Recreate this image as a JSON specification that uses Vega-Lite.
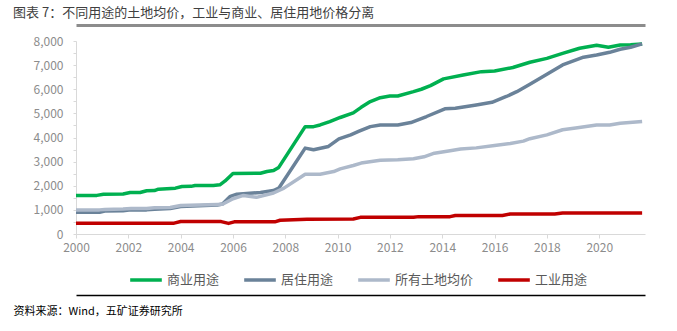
{
  "$schema": "https://vega.github.io/schema/vega-lite/v6.json",
  "width": 569,
  "height": 193,
  "autosize": {"type": "none"},
  "padding": {"left": 76, "top": 41, "right": 32, "bottom": 97},
  "background": "white",
  "title": {
    "text": "图表 7：不同用途的土地均价，工业与商业、居住用地价格分离",
    "anchor": "start",
    "frame": "group",
    "dx": -63,
    "offset": 5,
    "font": "Noto Sans CJK SC",
    "fontSize": 13,
    "fontWeight": "normal",
    "color": "#404040"
  },
  "config": {
    "view": {"stroke": null},
    "axis": {"grid": false, "labelFont": "Noto Sans CJK SC", "labelFontSize": 12, "labelColor": "#8C8C8C", "domainColor": "#D9D9D9", "tickColor": "#D9D9D9", "tickSize": 4}
  },
  "data": {"values": [
    {"year": 2000.0, "series": "商业用途", "value": 1600},
    {"year": 2000.8, "series": "商业用途", "value": 1600},
    {"year": 2001.05, "series": "商业用途", "value": 1650},
    {"year": 2001.8, "series": "商业用途", "value": 1660},
    {"year": 2002.07, "series": "商业用途", "value": 1720},
    {"year": 2002.45, "series": "商业用途", "value": 1720},
    {"year": 2002.7, "series": "商业用途", "value": 1790},
    {"year": 2003.0, "series": "商业用途", "value": 1800},
    {"year": 2003.15, "series": "商业用途", "value": 1860},
    {"year": 2003.8, "series": "商业用途", "value": 1900},
    {"year": 2004.05, "series": "商业用途", "value": 1970},
    {"year": 2004.4, "series": "商业用途", "value": 1975},
    {"year": 2004.55, "series": "商业用途", "value": 2010},
    {"year": 2005.25, "series": "商业用途", "value": 2010},
    {"year": 2005.5, "series": "商业用途", "value": 2040},
    {"year": 2005.7, "series": "商业用途", "value": 2200},
    {"year": 2006.0, "series": "商业用途", "value": 2510},
    {"year": 2007.05, "series": "商业用途", "value": 2520},
    {"year": 2007.3, "series": "商业用途", "value": 2590},
    {"year": 2007.55, "series": "商业用途", "value": 2630},
    {"year": 2007.75, "series": "商业用途", "value": 2760},
    {"year": 2008.76, "series": "商业用途", "value": 4450},
    {"year": 2009.08, "series": "商业用途", "value": 4450},
    {"year": 2009.33, "series": "商业用途", "value": 4520},
    {"year": 2009.7, "series": "商业用途", "value": 4660},
    {"year": 2010.1, "series": "商业用途", "value": 4830},
    {"year": 2010.6, "series": "商业用途", "value": 5020},
    {"year": 2010.9, "series": "商业用途", "value": 5250},
    {"year": 2011.25, "series": "商业用途", "value": 5490},
    {"year": 2011.63, "series": "商业用途", "value": 5650},
    {"year": 2012.0, "series": "商业用途", "value": 5720},
    {"year": 2012.3, "series": "商业用途", "value": 5720},
    {"year": 2012.9, "series": "商业用途", "value": 5900},
    {"year": 2013.2, "series": "商业用途", "value": 6000},
    {"year": 2013.55, "series": "商业用途", "value": 6150},
    {"year": 2014.05, "series": "商业用途", "value": 6430},
    {"year": 2014.8, "series": "商业用途", "value": 6590},
    {"year": 2015.5, "series": "商业用途", "value": 6730},
    {"year": 2016.0, "series": "商业用途", "value": 6760},
    {"year": 2016.7, "series": "商业用途", "value": 6900},
    {"year": 2017.35, "series": "商业用途", "value": 7120},
    {"year": 2018.0, "series": "商业用途", "value": 7280},
    {"year": 2018.6, "series": "商业用途", "value": 7490},
    {"year": 2019.25, "series": "商业用途", "value": 7700},
    {"year": 2019.9, "series": "商业用途", "value": 7820},
    {"year": 2020.35, "series": "商业用途", "value": 7740},
    {"year": 2020.8, "series": "商业用途", "value": 7835},
    {"year": 2021.2, "series": "商业用途", "value": 7840},
    {"year": 2021.64, "series": "商业用途", "value": 7880},

    {"year": 2000.0, "series": "居住用途", "value": 900},
    {"year": 2000.9, "series": "居住用途", "value": 900},
    {"year": 2001.1, "series": "居住用途", "value": 950},
    {"year": 2001.8, "series": "居住用途", "value": 965},
    {"year": 2002.1, "series": "居住用途", "value": 1000},
    {"year": 2002.7, "series": "居住用途", "value": 1000},
    {"year": 2003.0, "series": "居住用途", "value": 1030},
    {"year": 2003.6, "series": "居住用途", "value": 1060},
    {"year": 2004.0, "series": "居住用途", "value": 1140},
    {"year": 2005.4, "series": "居住用途", "value": 1200},
    {"year": 2005.6, "series": "居住用途", "value": 1240},
    {"year": 2005.9, "series": "居住用途", "value": 1560},
    {"year": 2006.15, "series": "居住用途", "value": 1650},
    {"year": 2007.05, "series": "居住用途", "value": 1720},
    {"year": 2007.55, "series": "居住用途", "value": 1800},
    {"year": 2007.75, "series": "居住用途", "value": 1900},
    {"year": 2008.76, "series": "居住用途", "value": 3560},
    {"year": 2009.08, "series": "居住用途", "value": 3490},
    {"year": 2009.65, "series": "居住用途", "value": 3630},
    {"year": 2010.05, "series": "居住用途", "value": 3940},
    {"year": 2010.5, "series": "居住用途", "value": 4110},
    {"year": 2010.8, "series": "居住用途", "value": 4250},
    {"year": 2011.25, "series": "居住用途", "value": 4450},
    {"year": 2011.63, "series": "居住用途", "value": 4520},
    {"year": 2012.3, "series": "居住用途", "value": 4520},
    {"year": 2012.8, "series": "居住用途", "value": 4620},
    {"year": 2013.4, "series": "居住用途", "value": 4870},
    {"year": 2014.1, "series": "居住用途", "value": 5190},
    {"year": 2014.5, "series": "居住用途", "value": 5210},
    {"year": 2015.3, "series": "居住用途", "value": 5350},
    {"year": 2015.9, "series": "居住用途", "value": 5460},
    {"year": 2016.45, "series": "居住用途", "value": 5700},
    {"year": 2016.85, "series": "居住用途", "value": 5900},
    {"year": 2017.35, "series": "居住用途", "value": 6210},
    {"year": 2018.0, "series": "居住用途", "value": 6620},
    {"year": 2018.6, "series": "居住用途", "value": 7010},
    {"year": 2019.4, "series": "居住用途", "value": 7330},
    {"year": 2019.9, "series": "居住用途", "value": 7420},
    {"year": 2020.4, "series": "居住用途", "value": 7530},
    {"year": 2020.8, "series": "居住用途", "value": 7660},
    {"year": 2021.2, "series": "居住用途", "value": 7740},
    {"year": 2021.64, "series": "居住用途", "value": 7880},

    {"year": 2000.0, "series": "所有土地均价", "value": 1000},
    {"year": 2000.9, "series": "所有土地均价", "value": 1000},
    {"year": 2001.1, "series": "所有土地均价", "value": 1020},
    {"year": 2001.8, "series": "所有土地均价", "value": 1040},
    {"year": 2002.1, "series": "所有土地均价", "value": 1060},
    {"year": 2002.7, "series": "所有土地均价", "value": 1060},
    {"year": 2003.0, "series": "所有土地均价", "value": 1090},
    {"year": 2003.6, "series": "所有土地均价", "value": 1100},
    {"year": 2004.0, "series": "所有土地均价", "value": 1180},
    {"year": 2005.4, "series": "所有土地均价", "value": 1220},
    {"year": 2005.6, "series": "所有土地均价", "value": 1230},
    {"year": 2006.0, "series": "所有土地均价", "value": 1460},
    {"year": 2006.4, "series": "所有土地均价", "value": 1600},
    {"year": 2006.9, "series": "所有土地均价", "value": 1520},
    {"year": 2007.55, "series": "所有土地均价", "value": 1700},
    {"year": 2007.95, "series": "所有土地均价", "value": 1900},
    {"year": 2008.76, "series": "所有土地均价", "value": 2480},
    {"year": 2009.33, "series": "所有土地均价", "value": 2480},
    {"year": 2009.85, "series": "所有土地均价", "value": 2590},
    {"year": 2010.1, "series": "所有土地均价", "value": 2700},
    {"year": 2010.6, "series": "所有土地均价", "value": 2840},
    {"year": 2010.9, "series": "所有土地均价", "value": 2940},
    {"year": 2011.63, "series": "所有土地均价", "value": 3060},
    {"year": 2012.3, "series": "所有土地均价", "value": 3080},
    {"year": 2012.9, "series": "所有土地均价", "value": 3120},
    {"year": 2013.3, "series": "所有土地均价", "value": 3200},
    {"year": 2013.7, "series": "所有土地均价", "value": 3350},
    {"year": 2014.3, "series": "所有土地均价", "value": 3450},
    {"year": 2014.7, "series": "所有土地均价", "value": 3520},
    {"year": 2015.3, "series": "所有土地均价", "value": 3570},
    {"year": 2016.0, "series": "所有土地均价", "value": 3670},
    {"year": 2016.6, "series": "所有土地均价", "value": 3750},
    {"year": 2017.1, "series": "所有土地均价", "value": 3850},
    {"year": 2017.35, "series": "所有土地均价", "value": 3950},
    {"year": 2018.0, "series": "所有土地均价", "value": 4110},
    {"year": 2018.6, "series": "所有土地均价", "value": 4320},
    {"year": 2019.1, "series": "所有土地均价", "value": 4390},
    {"year": 2019.9, "series": "所有土地均价", "value": 4520},
    {"year": 2020.4, "series": "所有土地均价", "value": 4520},
    {"year": 2020.8, "series": "所有土地均价", "value": 4590},
    {"year": 2021.64, "series": "所有土地均价", "value": 4660},

    {"year": 2000.0, "series": "工业用途", "value": 450},
    {"year": 2003.75, "series": "工业用途", "value": 450},
    {"year": 2004.0, "series": "工业用途", "value": 515},
    {"year": 2005.55, "series": "工业用途", "value": 515},
    {"year": 2005.83, "series": "工业用途", "value": 440},
    {"year": 2006.05, "series": "工业用途", "value": 505},
    {"year": 2007.6, "series": "工业用途", "value": 505},
    {"year": 2007.8, "series": "工业用途", "value": 570},
    {"year": 2008.83, "series": "工业用途", "value": 615},
    {"year": 2010.6, "series": "工业用途", "value": 620},
    {"year": 2010.87, "series": "工业用途", "value": 690},
    {"year": 2012.9, "series": "工业用途", "value": 690},
    {"year": 2013.1, "series": "工业用途", "value": 720},
    {"year": 2014.3, "series": "工业用途", "value": 720},
    {"year": 2014.5, "series": "工业用途", "value": 770},
    {"year": 2016.3, "series": "工业用途", "value": 770},
    {"year": 2016.6, "series": "工业用途", "value": 830},
    {"year": 2018.3, "series": "工业用途", "value": 830},
    {"year": 2018.6, "series": "工业用途", "value": 870},
    {"year": 2021.64, "series": "工业用途", "value": 870}
  ]},
  "encoding": {
    "y": {"field": "value", "type": "quantitative", "scale": {"domain": [0, 8000], "nice": false},
      "axis": {"values": [0, 500, 1000, 1500, 2000, 2500, 3000, 3500, 4000, 4500, 5000, 5500, 6000, 6500, 7000, 7500, 8000],
        "labelExpr": "datum.value % 1000 === 0 ? format(datum.value, ',') : ''", "labelOverlap": false, "tickSize": 3, "title": null, "labelPadding": 10}}
  },
  "resolve": {"axis": {"x": "independent"}},
  "layer": [
    {
      "mark": {"type": "line", "opacity": 0},
      "encoding": {
        "x": {"field": "year", "type": "quantitative", "scale": {"domain": [2000, 2021.75], "nice": false, "zero": false},
          "axis": {"orient": "top", "offset": 16, "labels": false, "ticks": false, "title": null, "domainColor": "#8C8C8C", "domainWidth": 3}}
      }
    },
    {
      "mark": {"type": "line", "opacity": 0},
      "encoding": {
        "x": {"field": "year", "type": "quantitative", "scale": {"domain": [2000, 2021.75], "nice": false, "zero": false},
          "axis": {"orient": "bottom", "offset": 61, "labels": false, "ticks": false, "domainColor": "#000000", "domainWidth": 1.5,
            "title": "资料来源：Wind，五矿证券研究所", "titleX": -63, "titleY": 16, "titleAlign": "left", "titleAnchor": null, "titleBaseline": "middle",
            "titleFont": "Noto Sans CJK SC", "titleFontSize": 11, "titleFontWeight": "normal", "titleColor": "#000000"}}
      }
    },
    {
      "mark": {"type": "line", "strokeWidth": 3.5, "strokeJoin": "round", "strokeCap": "butt"},
      "encoding": {
        "x": {"field": "year", "type": "quantitative", "scale": {"domain": [2000, 2021.75], "nice": false, "zero": false},
          "axis": {"orient": "bottom", "values": [2000, 2002, 2004, 2006, 2008, 2010, 2012, 2014, 2016, 2018, 2020], "format": "d", "title": null, "labelPadding": 4, "labelFlush": false}},
        "color": {"field": "series", "type": "nominal",
          "scale": {"domain": ["商业用途", "居住用途", "所有土地均价", "工业用途"], "range": ["#00B050", "#6A8299", "#ADB9CA", "#C00000"]},
          "legend": {"title": null, "orient": "none", "direction": "horizontal", "legendX": 52, "legendY": 221,
            "symbolType": "stroke", "symbolStrokeWidth": 3.5, "symbolSize": 1000, "labelFont": "Noto Sans CJK SC", "labelFontSize": 13, "labelColor": "#595959",
            "labelOffset": 3, "columnPadding": 17}}
      }
    }
  ]
}
